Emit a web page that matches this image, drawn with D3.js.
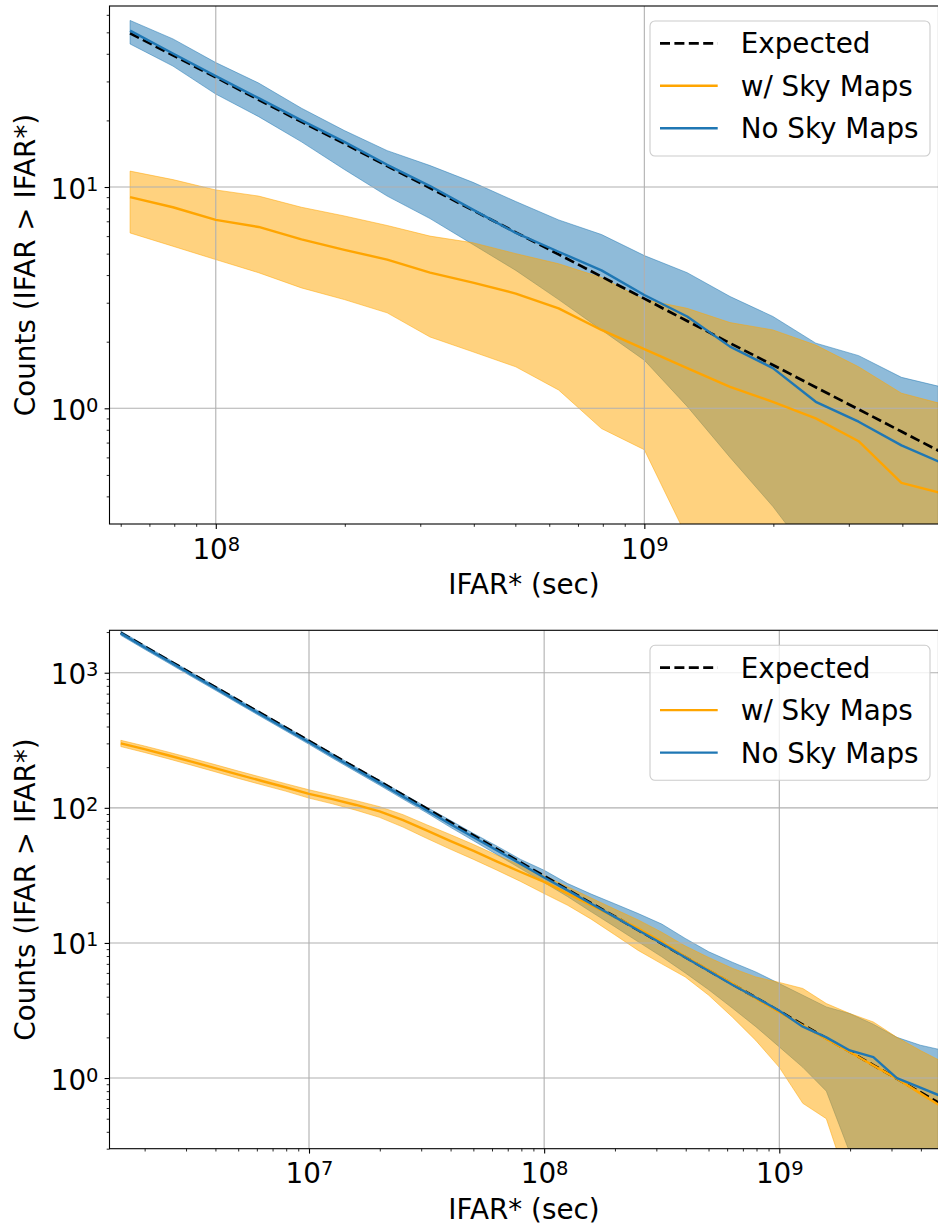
<!DOCTYPE html>
<html>
<head>
<meta charset="utf-8">
<title>IFAR counts</title>
<script src="https://cdn.jsdelivr.net/npm/d3@7"></script>
<style>
    body{ margin:0; background:#fff; }
    svg text{ font-family:"DejaVu Sans", sans-serif; fill:#000; }
</style>
</head>
<body>
<svg id="chart" width="938" height="1228"></svg>
<script>

// ---- data: log10 of IFAR* (sec) and counts ----

// top panel
var topLogIfar  = [7.8, 7.9, 8.0, 8.1, 8.2, 8.3, 8.4, 8.5, 8.6, 8.7,
                   8.8, 8.9, 9.0, 9.1, 9.2, 9.3, 9.4, 9.5, 9.6, 9.7];
var topExpected = [49.5, 39.4, 31.3, 24.8, 19.7, 15.7, 12.45, 9.89, 7.85, 6.24,
                   4.96, 3.94, 3.13, 2.48, 1.97, 1.57, 1.245, 0.989, 0.785, 0.624];
var topNoSky    = [50.9, 40.1, 31.7, 25.2, 20.0, 16.0, 12.6, 10.1, 7.9, 6.2,
                   5.1, 4.2, 3.25, 2.6, 1.9, 1.52, 1.07, 0.87, 0.68, 0.56];
var topNoSkyHi  = [56.6, 46.7, 36.5, 29.5, 22.7, 18.0, 14.6, 12.5, 10.5, 8.6,
                   7.1, 6.1, 4.9, 4.1, 3.2, 2.6, 1.97, 1.73, 1.38, 1.24];
var topNoSkyLo  = [44.3, 35.2, 26.3, 20.8, 16.0, 12.0, 9.1, 7.2, 5.5, 4.2,
                   3.1, 2.26, 1.65, 1.02, 0.60, 0.36, 0.2, 0.12, 0.08, 0.05];
var topSky      = [9.0, 8.1, 7.1, 6.6, 5.8, 5.2, 4.7, 4.1, 3.7, 3.3,
                   2.83, 2.26, 1.85, 1.52, 1.25, 1.07, 0.90, 0.71, 0.46, 0.41];
var topSkyHi    = [11.8, 10.8, 9.7, 9.1, 8.1, 7.4, 6.7, 6.0, 5.6, 5.0,
                   4.5, 3.9, 3.1, 2.83, 2.44, 2.26, 1.93, 1.54, 1.17, 1.04];
var topSkyLo    = [6.2, 5.4, 4.7, 4.1, 3.5, 3.1, 2.7, 2.1, 1.8, 1.54,
                   1.21, 0.81, 0.65, 0.26, 0.1, 0.05, 0.03, 0.02, 0.01, 0.01];

// bottom panel
var botLogIfar  = [6.2, 6.3, 6.4, 6.5, 6.6, 6.7, 6.8, 6.9, 7.0, 7.1, 7.2, 7.3,
                   7.4, 7.5, 7.6, 7.7, 7.8, 7.9, 8.0, 8.1, 8.2, 8.3, 8.4, 8.5,
                   8.6, 8.7, 8.8, 8.9, 9.0, 9.1, 9.2, 9.3, 9.4, 9.5, 9.6, 9.7];
var botExpected = [1972, 1567, 1245, 989, 785, 624, 496, 394, 313, 248, 197, 157,
                   124.5, 98.9, 78.5, 62.4, 49.5, 39.4, 31.3, 24.8, 19.7, 15.7, 12.45, 9.89,
                   7.85, 6.24, 4.96, 3.94, 3.13, 2.48, 1.97, 1.57, 1.245, 0.989, 0.785, 0.624];
var botNoSky    = [1955, 1545, 1225, 970, 770, 610, 485, 385, 306, 242, 192, 153,
                   121, 96, 76, 60.5, 48.3, 38.5, 30.5, 24.5, 19.5, 15.6, 12.4, 9.9,
                   7.8, 6.2, 4.9, 3.95, 3.15, 2.4, 2.0, 1.6, 1.43, 1.0, 0.85, 0.72];
var botNoSkyHi  = [2030, 1600, 1270, 1005, 800, 633, 503, 400, 318, 252, 200, 160,
                   127, 101, 81, 64.5, 52, 41.5, 34.5, 27.5, 23, 19.5, 16.5, 13.8,
                   10.8, 8.6, 7.2, 6.1, 5.0, 4.1, 3.36, 3.0, 2.5, 2.0, 1.75, 1.6];
var botNoSkyLo  = [1890, 1495, 1185, 938, 745, 590, 468, 372, 295, 233, 185, 147,
                   116, 92, 72, 57, 45, 35.5, 28, 22, 17, 13.2, 10.2, 7.9,
                   6.0, 4.5, 3.3, 2.4, 1.7, 1.2, 0.8, 0.28, 0.12, 0.08, 0.05, 0.03];
var botSky      = [300, 272, 245, 220, 197, 176, 158, 142, 127, 116, 105, 94,
                   81, 68, 57, 48, 40, 33.5, 28.3, 23.2, 19, 15.6, 12.8, 10.2,
                   7.9, 6.3, 5.0, 3.9, 3.08, 2.45, 1.95, 1.56, 1.24, 0.99, 0.77, 0.6];
var botSkyHi    = [316, 287, 259, 233, 209, 187, 168, 151, 136, 124, 113, 102,
                   89, 75, 63.5, 53.5, 44.5, 37.5, 31.5, 26, 21.5, 17.8, 14.8, 12,
                   9.5, 7.8, 6.5, 5.6, 5.1, 4.6, 3.56, 3.0, 2.6, 2.0, 1.6, 1.3];
var botSkyLo    = [284, 257, 231, 207, 185, 165, 148, 133, 118, 107, 96, 85,
                   72, 59.5, 49.5, 41.5, 34.5, 28.5, 23.2, 19, 15, 11.5, 8.8, 7.0,
                   5.6, 4.1, 2.83, 1.9, 1.2, 0.65, 0.5, 0.15, 0.05, 0.03, 0.02, 0.01];

var legendLabels = ['Expected', 'w/ Sky Maps', 'No Sky Maps'];
var xLabel = 'IFAR* (sec)',
    yLabel = 'Counts (IFAR > IFAR*)';

var BLUE = '#1f77b4', ORANGE = '#ffa500', GRID = '#b0b0b0';
var FONT = 27.8;

var panels = [
    {top:6, bottom:524, xLim:[7.752, 9.6864], yLim:[-0.5228, 1.818],
     logx:topLogIfar, exp:topExpected, no:topNoSky, noHi:topNoSkyHi, noLo:topNoSkyLo,
     sky:topSky, skyHi:topSkyHi, skyLo:topSkyLo},
    {top:630.3, bottom:1148.7, xLim:[6.1516, 9.677], yLim:[-0.523, 3.314],
     logx:botLogIfar, exp:botExpected, no:botNoSky, noHi:botNoSkyHi, noLo:botNoSkyLo,
     sky:botSky, skyHi:botSkyHi, skyLo:botSkyLo}
];

var left = 109.5, right = 938.5;
var svg = d3.select('#chart');

panels.forEach(function(p, i){
    var x = d3.scaleLog().domain([Math.pow(10, p.xLim[0]), Math.pow(10, p.xLim[1])]).range([left, right]);
    var y = d3.scaleLog().domain([Math.pow(10, p.yLim[0]), Math.pow(10, p.yLim[1])]).range([p.bottom, p.top]);

    var rows = p.logx.map(function(e, k){
        return {x:Math.pow(10, e), exp:p.exp[k], no:p.no[k], noHi:p.noHi[k], noLo:p.noLo[k],
                sky:p.sky[k], skyHi:p.skyHi[k], skyLo:p.skyLo[k]};
    });

    var clipId = 'clip' + i;
    svg.append('clipPath').attr('id', clipId)
        .append('rect')
        .attr('x', left).attr('y', p.top)
        .attr('width', right - left).attr('height', p.bottom - p.top);

    var plot = svg.append('g').attr('clip-path', 'url(#' + clipId + ')');

    function band(lo, hi){
        return d3.area().x(function(d){ return x(d.x) })
            .y0(function(d){ return y(d[lo]) })
            .y1(function(d){ return y(d[hi]) });
    }
    function line(key){
        return d3.line().x(function(d){ return x(d.x) }).y(function(d){ return y(d[key]) });
    }

    // bands (blue first, orange on top)
    plot.append('path').datum(rows).attr('d', band('noLo', 'noHi'))
        .attr('fill', BLUE).attr('fill-opacity', 0.5)
        .attr('stroke', BLUE).attr('stroke-opacity', 0.5).attr('stroke-width', 1);
    plot.append('path').datum(rows).attr('d', band('skyLo', 'skyHi'))
        .attr('fill', ORANGE).attr('fill-opacity', 0.5)
        .attr('stroke', ORANGE).attr('stroke-opacity', 0.5).attr('stroke-width', 1);

    // grid over the bands, under the lines
    var xt = x.ticks(), yt = y.ticks();
    function isMajor(t){ var l = Math.log10(t); return Math.abs(l - Math.round(l)) < 1e-6 }
    var xMaj = xt.filter(isMajor), xMin = xt.filter(function(t){ return !isMajor(t) });
    var yMaj = yt.filter(isMajor), yMin = yt.filter(function(t){ return !isMajor(t) });

    plot.append('g').selectAll('line').data(xMaj).join('line')
        .attr('x1', x).attr('x2', x).attr('y1', p.top).attr('y2', p.bottom)
        .attr('stroke', GRID).attr('stroke-width', 1.1);
    plot.append('g').selectAll('line').data(yMaj).join('line')
        .attr('y1', y).attr('y2', y).attr('x1', left).attr('x2', right)
        .attr('stroke', GRID).attr('stroke-width', 1.1);

    plot.append('path').datum(rows).attr('d', line('exp'))
        .attr('fill', 'none').attr('stroke', '#000').attr('stroke-width', 2.7)
        .attr('stroke-dasharray', '10,4.4');
    plot.append('path').datum(rows).attr('d', line('sky'))
        .attr('fill', 'none').attr('stroke', ORANGE).attr('stroke-width', 2.4)
        .attr('stroke-linejoin', 'round');
    plot.append('path').datum(rows).attr('d', line('no'))
        .attr('fill', 'none').attr('stroke', BLUE).attr('stroke-width', 2.4)
        .attr('stroke-linejoin', 'round');

    // axes
    function label(sel){
        sel.each(function(d){
            var t = d3.select(this);
            t.text('10');
            t.append('tspan').attr('dy', -8).attr('font-size', 19.5).text(Math.round(Math.log10(d)));
        });
    }

    var gx = svg.append('g').attr('transform', 'translate(0,' + p.bottom + ')');
    gx.call(d3.axisBottom(x).tickValues(xMin).tickSize(2.8).tickFormat(''))
      .call(function(g){ g.select('.domain').remove(); g.selectAll('line').attr('stroke-width', 0.85) });
    var gxm = svg.append('g').attr('transform', 'translate(0,' + p.bottom + ')');
    gxm.call(d3.axisBottom(x).tickValues(xMaj).tickSize(4.9).tickFormat(''))
       .call(function(g){ g.select('.domain').remove(); g.selectAll('line').attr('stroke-width', 1.1) });
    gxm.attr('font-size', FONT).attr('font-family', null);
    gxm.selectAll('.tick text').attr('y', 34.5).attr('dy', null).call(label);

    var gy = svg.append('g').attr('transform', 'translate(' + left + ',0)');
    gy.call(d3.axisLeft(y).tickValues(yMin).tickSize(2.8).tickFormat(''))
      .call(function(g){ g.select('.domain').remove(); g.selectAll('line').attr('stroke-width', 0.85) });
    var gym = svg.append('g').attr('transform', 'translate(' + left + ',0)');
    gym.call(d3.axisLeft(y).tickValues(yMaj).tickSize(4.9).tickFormat(''))
       .call(function(g){ g.select('.domain').remove(); g.selectAll('line').attr('stroke-width', 1.1) });
    gym.attr('font-size', FONT).attr('font-family', null);
    gym.selectAll('.tick text').attr('x', -11).attr('dy', 11).call(label);

    // spines
    svg.append('rect')
        .attr('x', left).attr('y', p.top)
        .attr('width', right - left).attr('height', p.bottom - p.top)
        .attr('fill', 'none').attr('stroke', '#000').attr('stroke-width', 1.1);

    // axis titles
    svg.append('text')
        .attr('x', (left + right) / 2).attr('y', p.bottom + 70)
        .attr('text-anchor', 'middle').attr('font-size', FONT)
        .text(xLabel);
    svg.append('text')
        .attr('transform', 'translate(35,' + ((p.top + p.bottom) / 2) + ') rotate(-90)')
        .attr('text-anchor', 'middle').attr('font-size', FONT)
        .text(yLabel);

    // legend
    var lg = svg.append('g').attr('transform', 'translate(650,' + (p.top + 15) + ')');
    lg.append('rect')
        .attr('width', 280).attr('height', 135).attr('rx', 5)
        .attr('fill', '#fff').attr('fill-opacity', 0.8)
        .attr('stroke', '#cccccc').attr('stroke-width', 1.1);
    var styles = [
        {color:'#000', dash:'10,4.4', w:2.7},
        {color:ORANGE, dash:null, w:2.4},
        {color:BLUE, dash:null, w:2.4}
    ];
    legendLabels.forEach(function(name, k){
        var ly = 22.3 + k * 42.5;
        lg.append('line')
            .attr('x1', 10).attr('x2', 67.7).attr('y1', ly).attr('y2', ly)
            .attr('stroke', styles[k].color).attr('stroke-width', styles[k].w)
            .attr('stroke-dasharray', styles[k].dash);
        lg.append('text')
            .attr('x', 90.7).attr('y', ly + 10)
            .attr('font-size', FONT)
            .text(name);
    });
});

</script>
</body>
</html>
